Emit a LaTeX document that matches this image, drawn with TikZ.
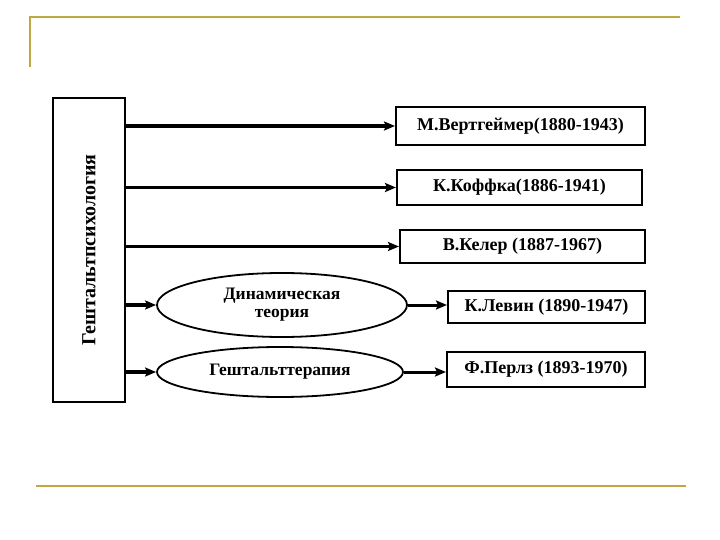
\documentclass[tikz,border=0pt]{standalone}
\usepackage{fontspec}
\setmainfont{Liberation Serif}
\usetikzlibrary{arrows.meta,shapes.geometric,positioning}
\definecolor{goldline}{RGB}{192,168,64}

\begin{document}
\begin{tikzpicture}[x=1pt,y=-1pt,font=\fontsize{18}{20}\selectfont\bfseries,
  person/.style={rectangle,draw,line width=2pt,inner sep=0pt},
  branch/.style={ellipse,draw,line width=1.8pt,inner sep=0pt,align=center,
                 font=\fontsize{17.5}{18}\selectfont\bfseries},
  link/.style={line width=3.6pt,-{Stealth[length=11pt,width=9pt,inset=2pt]}}]
  \useasboundingbox (0,0) rectangle (720,540);
  \draw[goldline,line width=2pt] (30,67) -- (30,17) -- (680,17);
  \draw[goldline,line width=2pt] (36,486) -- (686,486);
  \node[rectangle,draw,line width=2pt,minimum width=72pt,minimum height=303pt] (g) at (89,250) {};
  \node[rotate=90,font=\fontsize{20}{22}\selectfont\bfseries] (gt) at (g) {Гештальтпсихология};
    \foreach \i/\x/\y/\w/\h/\t in {1/520.5/126/249/38/{М.Вертгеймер(1880-1943)},
                                  2/519.5/187.5/245/35/{К.Коффка(1886-1941)},
                                  3/522.5/246.5/245/33/{В.Келер (1887-1967)},
                                  4/546.5/307/197/32/{К.Левин (1890-1947)},
                                  5/546/369.5/198/35/{Ф.Перлз (1893-1970)}}{
      \node[person,minimum width=\w pt,minimum height=\h pt] (p_\i) at (\x,\y) {\t};
    }
    \node[branch,minimum width=250pt,minimum height=64pt] (d) at (282,305) {Динамическая\\теория};
    \node[branch,minimum width=246pt,minimum height=50pt] (t) at (280,372) {Гештальттерапия};
    \foreach \i in {1,2,3}
      \draw[link] (g.east |- p_\i.west) -- (p_\i.west);
    \draw[link] (g.east |- d.west) -- (d.west);
    \draw[link] (g.east |- t.west) -- (t.west);
    \draw[link,line width=3pt] (d.east) -- (d.east -| p_4.west);
    \draw[link,line width=3pt] (t.east) -- (t.east -| p_5.west);
\end{tikzpicture}
\end{document}
